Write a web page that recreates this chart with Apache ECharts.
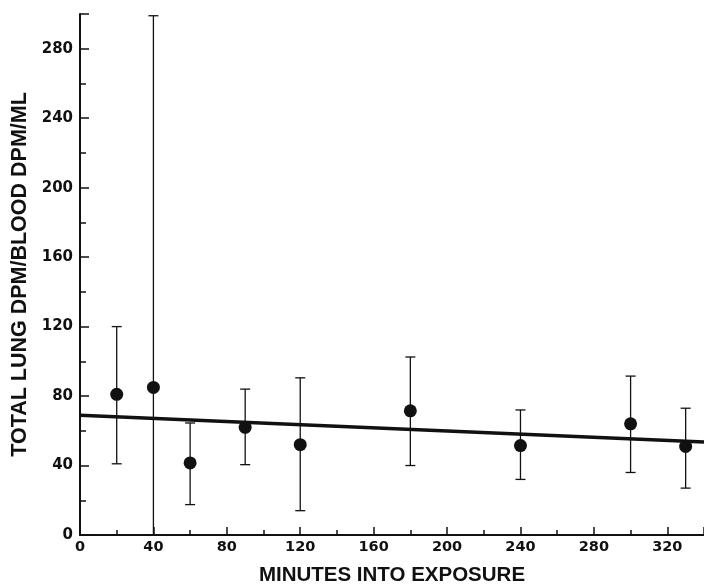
<!DOCTYPE html>
<html>
<head>
<meta charset="utf-8">
<script src="https://cdn.jsdelivr.net/npm/echarts@6/dist/echarts.min.js"></script>
<style>
  html, body { margin: 0; padding: 0; background: #fff; }
  #chart { width: 704px; height: 586px; }
</style>
</head>
<body>
<div id="chart"></div>
<script>
// minutes into exposure
var minutes = [20, 40, 60, 90, 120, 180, 240, 300, 330];
// mean ratio and error bar ends
var ratio = [81, 85, 41.5, 62, 52, 71.5, 51.5, 64, 51];
var upper = [120, 299, 64.5, 84, 90.5, 102.5, 72, 91.5, 73];
var lower = [41, 0, 17.5, 40.5, 14, 40, 32, 36, 27];
// regression line end points
var fitX = [0, 340];
var fitY = [69, 53.5];

var nameFont = 'Liberation Sans, Arial, sans-serif';
var tickFont = 'DejaVu Sans, sans-serif';

var points = minutes.map(function (m, i) { return [m, ratio[i]]; });
var bars = minutes.map(function (m, i) { return [m, lower[i], upper[i]]; });
var fit = fitX.map(function (x, i) { return [x, fitY[i]]; });

var chart = echarts.init(document.getElementById('chart'));
chart.setOption({
  animation: false,
  grid: { left: 80, right: 0, top: 14, bottom: 51, containLabel: false, outerBoundsMode: 'none' },
  xAxis: {
    type: 'value',
    min: 0, max: 340, interval: 40,
    name: 'MINUTES INTO EXPOSURE',
    nameLocation: 'middle',
    nameGap: 30,
    nameTextStyle: { fontFamily: nameFont, fontWeight: 'bold', fontSize: 20.5, color: '#111' },
    axisLine: { show: true, lineStyle: { color: '#111', width: 2 } },
    axisTick: { show: true, inside: true, length: 8, lineStyle: { color: '#111', width: 1.5 } },
    minorTick: { show: true, splitNumber: 2, length: 5, lineStyle: { color: '#111', width: 1.5 } },
    axisLabel: { fontFamily: tickFont, fontWeight: 'bold', fontSize: 14.5, color: '#111', margin: 5, showMaxLabel: false },
    splitLine: { show: false }
  },
  yAxis: {
    type: 'value',
    min: 0, max: 300, interval: 40,
    name: 'TOTAL LUNG DPM/BLOOD DPM/ML',
    nameLocation: 'middle',
    nameRotate: 90,
    nameGap: 49,
    nameTextStyle: { fontFamily: nameFont, fontWeight: 'bold', fontSize: 21.5, color: '#111' },
    axisLine: { show: true, lineStyle: { color: '#111', width: 2 } },
    axisTick: { show: true, inside: true, length: 9, lineStyle: { color: '#111', width: 1.5 } },
    minorTick: { show: true, splitNumber: 2, length: 6, lineStyle: { color: '#111', width: 1.5 } },
    axisLabel: { fontFamily: tickFont, fontWeight: 'bold', fontSize: 15, color: '#111', margin: 7, showMaxLabel: false },
    splitLine: { show: false }
  },
  series: [
    {
      type: 'custom',
      data: bars,
      z: 2,
      renderItem: function (params, api) {
        var x = api.value(0);
        var lo = api.coord([x, api.value(1)]);
        var hi = api.coord([x, api.value(2)]);
        var w = 5;
        var st = { stroke: '#111', lineWidth: 1.3 };
        return {
          type: 'group',
          children: [
            { type: 'line', shape: { x1: lo[0], y1: lo[1], x2: hi[0], y2: hi[1] }, style: st },
            { type: 'line', shape: { x1: hi[0] - w, y1: hi[1], x2: hi[0] + w, y2: hi[1] }, style: st },
            { type: 'line', shape: { x1: lo[0] - w, y1: lo[1], x2: lo[0] + w, y2: lo[1] }, style: st }
          ]
        };
      }
    },
    {
      type: 'line',
      data: fit,
      symbol: 'none',
      z: 3,
      lineStyle: { color: '#111', width: 3.5 }
    },
    {
      type: 'scatter',
      data: points,
      symbol: 'circle',
      symbolSize: 13,
      z: 4,
      itemStyle: { color: '#111', opacity: 1 }
    }
  ]
});
</script>
</body>
</html>
